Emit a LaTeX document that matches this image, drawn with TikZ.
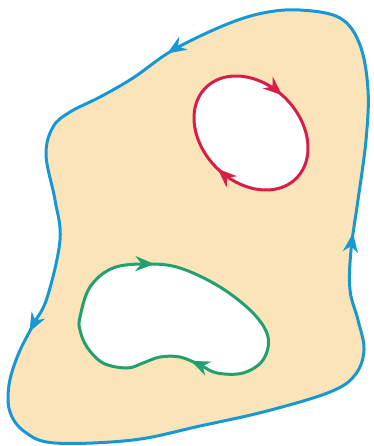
\documentclass[tikz,border=0pt]{standalone}
\usepackage{tikz}
\usetikzlibrary{arrows.meta,decorations.markings}

\definecolor{skin}{RGB}{251,228,186}
\definecolor{rimblue}{RGB}{22,152,212}
\definecolor{loopred}{RGB}{214,30,70}
\definecolor{loopgreen}{RGB}{34,160,110}

\begin{document}
\begin{tikzpicture}[x=1pt,y=-1pt,line width=3pt,>=Stealth,
  arrowat/.style={postaction={decorate,decoration={markings,
    mark=at position #1 with {\arrow{Stealth[length=19pt,width=15pt,inset=6pt]}}}}}]
  \useasboundingbox (0,0) rectangle (373,446);
  % outer boundary
  \draw[rimblue,fill=skin,arrowat=0.077,arrowat=0.335,arrowat=0.777]
    plot[smooth cycle,tension=0.6] coordinates {
      (300,10) (263,13) (225,25) (173,50) (133,78) (100,97) (70,112)
      (53,127) (46,155) (55,200) (60,240) (47,298) (33,325)
      (18,355) (9,385) (10,412) (25,432) (55,443) (133,440) (200,426)
      (267,411) (330,392) (355,375) (364,350) (358,320) (350,290)
      (351,250) (358,200) (366,140) (368,90) (360,45) (340,18)};
  % red hole
  \draw[loopred,fill=white,arrowat=0.245,arrowat=0.737]
    plot[domain=0:360,samples=90,variable=\t]
      ({251+45.3*cos(\t)-34.6*sin(\t)},{133+45.3*cos(\t)+34.6*sin(\t)}) -- cycle;
  % green hole
  \draw[loopgreen,fill=white,arrowat=0.015,arrowat=0.51]
    plot[smooth cycle,tension=0.6] coordinates {
      (113,268) (147,264) (180,268) (220,287) (253,313) (268,337)
      (263,360) (243,373) (217,373) (200,365) (180,357) (160,357)
      (143,363) (127,368) (103,363) (87,347) (80,330) (80,317) (90,287)};
\end{tikzpicture}
\end{document}
